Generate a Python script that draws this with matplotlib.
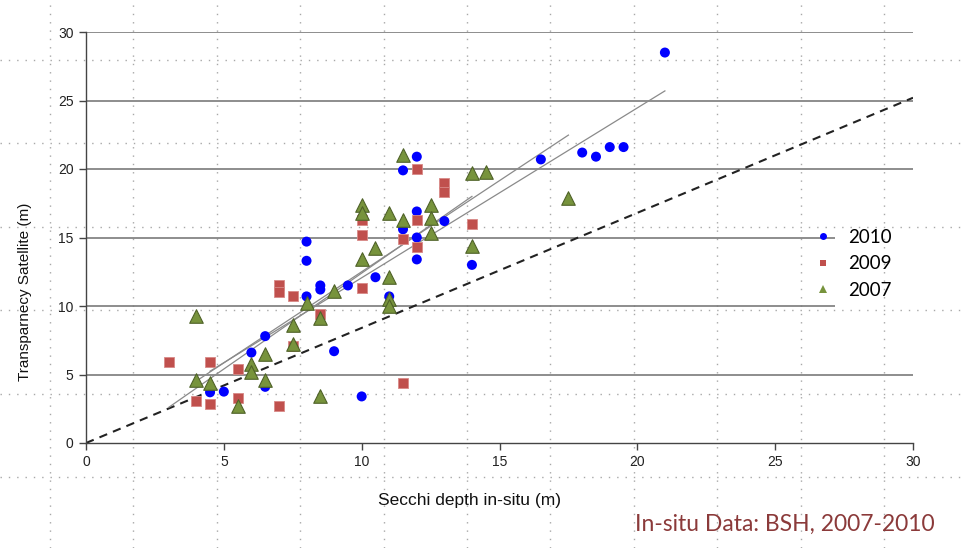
import matplotlib
matplotlib.use("Agg")
import matplotlib.pyplot as plt
from matplotlib.lines import Line2D
import numpy as np

# ---------------- data ----------------
x2010 = [4.5, 5, 6, 6.5, 6.5, 8, 8, 8, 8.5, 8.5, 9, 9.5, 10, 10.5, 11, 11.5, 11.5,
         12, 12, 12, 12, 13, 14, 16.5, 18, 18.5, 19, 19.5, 21]
y2010 = [3.7, 3.75, 6.6, 7.8, 4.1, 14.7, 13.3, 10.7, 11.5, 11.2, 6.7, 11.5, 3.4, 12.1, 10.7, 19.9, 15.6,
         20.9, 16.9, 15.0, 13.4, 16.2, 13.0, 20.7, 21.2, 20.9, 21.6, 21.6, 28.5]

x2009 = [3, 4, 4.5, 4.5, 5.5, 5.5, 7, 7, 7, 7.5, 7.5, 8.5, 10, 10, 10, 11.5, 11.5,
         12, 12, 12, 13, 13, 14]
y2009 = [5.9, 3.1, 5.9, 2.85, 5.4, 3.3, 11.5, 11.0, 2.7, 10.7, 7.1, 9.4, 16.3, 15.2, 11.3, 14.9, 4.4,
         20.0, 16.3, 14.3, 19.0, 18.3, 16.0]

x2007 = [4, 4, 4.5, 5.5, 6, 6, 6.5, 6.5, 7.5, 7.5, 8, 8.5, 8.5, 9, 10, 10, 10, 10.5,
         11, 11, 11, 11, 11.5, 11.5, 12.5, 12.5, 12.5, 14, 14.5, 14, 17.5]
y2007 = [9.3, 4.6, 4.4, 2.7, 5.8, 5.2, 6.5, 4.6, 8.6, 7.2, 10.2, 9.1, 3.4, 11.1, 17.4, 16.8, 13.4, 14.2,
         16.8, 12.1, 10.5, 10.0, 21.0, 16.3, 17.4, 16.4, 15.3, 19.7, 19.8, 14.4, 17.9]

series_labels = ["2010", "2009", "2007"]

# trend lines (slope, intercept, x range)
trend_slope = [1.24, 1.40, 1.33]
trend_intercept = [-0.34, -1.60, -0.80]
trend_xmin = [4.5, 3.0, 4.0]
trend_xmax = [21.0, 14.0, 17.5]

# reference dashed line
ref_slope = 0.84
ref_x = [0, 30]

ticks = [0, 5, 10, 15, 20, 25, 30]
grid_y = [5, 10, 15, 20, 25, 30]

# ---------------- figure ----------------
W, H = 961, 548
fig = plt.figure(figsize=(W / 100, H / 100), dpi=100)
fig.patch.set_facecolor("white")

# background slide guide grid (dotted)
bg = fig.add_axes([0, 0, 1, 1], zorder=0)
bg.set_xlim(0, W)
bg.set_ylim(H, 0)
bg.axis("off")
for gx in np.arange(50, W, 83.4):
    bg.axvline(gx, color="#a8a8a8", lw=1.0, ls=(0, (1, 5)))
for gy in np.arange(60, H, 83.4):
    bg.axhline(gy, color="#a8a8a8", lw=1.0, ls=(0, (1, 5)))

ax = fig.add_axes([86 / W, 1 - 443 / H, 827 / W, 411 / H], zorder=1)
ax.set_facecolor("none")
ax.set_xlim(0, 30)
ax.set_ylim(0, 30)

tickfont = ["Liberation Sans Narrow", "Liberation Sans", "DejaVu Sans"]

# horizontal gridlines (10 and 15 interrupted by the legend)
for gy in grid_y:
    xmax = 27.17 if gy in (10, 15) else 30
    ax.plot([0, xmax], [gy, gy], color="#7a7a7a", lw=1.2, zorder=1, solid_capstyle="butt")

# dashed reference line
ax.plot(ref_x, [ref_slope * v for v in ref_x], color="#222222", lw=1.5,
        ls=(0, (4, 3)), zorder=2)

# trend lines
for s, b, x0, x1 in zip(trend_slope, trend_intercept, trend_xmin, trend_xmax):
    ax.plot([x0, x1], [s * x0 + b, s * x1 + b], color="#8a8a8a", lw=0.9, zorder=2)

ax.scatter(x2010, y2010, s=52, marker="o", color="#0000FF", edgecolors="none", zorder=3)
ax.scatter(x2009, y2009, s=52, marker="s", color="#C0504D", edgecolors="#D98A88",
           linewidths=0.6, zorder=4)
ax.scatter(x2007, y2007, s=95, marker="^", color="#77933C", edgecolors="#4F6228",
           linewidths=0.8, zorder=5)

for sp in ["top", "right"]:
    ax.spines[sp].set_visible(False)
for sp in ["left", "bottom"]:
    ax.spines[sp].set_color("#444444")
    ax.spines[sp].set_linewidth(1.0)

ax.set_xticks(ticks)
ax.set_yticks(ticks)
ax.set_xticklabels([str(t) for t in ticks], family=tickfont, fontsize=10)
ax.set_yticklabels([str(t) for t in ticks], family=tickfont, fontsize=10)
ax.tick_params(axis="both", direction="out", length=5, width=1.0, color="#444444",
               labelcolor="#222222")
ax.tick_params(axis="x", pad=4)
ax.tick_params(axis="y", pad=4)

fig.text(25 / W, 1 - 292 / H, "Transparnecy Satellite (m)", rotation=90,
         ha="center", va="center", fontsize=11, family=["Liberation Sans", "DejaVu Sans"],
         color="#111111")
fig.text(469 / W, 1 - 501 / H, "Secchi depth in-situ (m)", ha="center", va="center",
         fontsize=12.5, family=tickfont, color="#111111")
fig.text(935 / W, 1 - 524 / H, "In-situ Data: BSH, 2007-2010", ha="right", va="center",
         fontsize=16.5, family=["Lato", "DejaVu Sans"], color="#8B3A3A")

handles = [
    Line2D([], [], ls="", marker="o", color="#0000FF", markersize=5, markeredgewidth=0),
    Line2D([], [], ls="", marker="s", color="#C0504D", markersize=5, markeredgewidth=0),
    Line2D([], [], ls="", marker="^", color="#77933C", markersize=6, markeredgewidth=0),
]
fig.legend(handles, series_labels, loc="upper left",
           bbox_to_anchor=(814 / W, 1 - 229 / H), frameon=False,
           prop={"family": ["Lato", "DejaVu Sans"], "size": 13.5},
           handlelength=1.0, handletextpad=0.8, labelspacing=0.5,
           borderpad=0, borderaxespad=0)

fig.savefig("out.png", dpi=100, facecolor="white")
